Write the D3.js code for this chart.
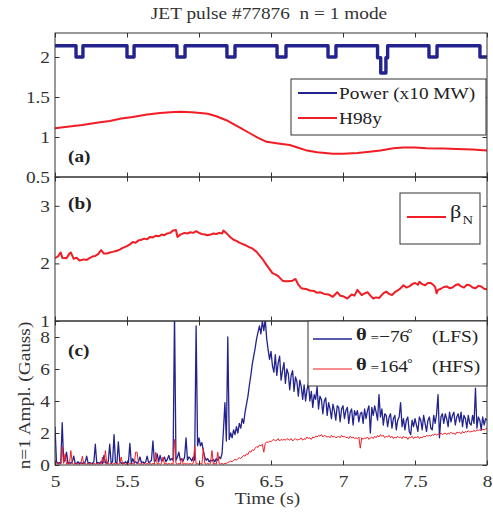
<!DOCTYPE html>
<html>
<head>
<meta charset="utf-8">
<script src="https://cdn.jsdelivr.net/npm/d3@7"></script>
<style>
  html, body { margin: 0; padding: 0; background: #fff; }
  svg { display: block; font-family: "Liberation Serif", "Times New Roman", serif; }
  text { white-space: pre; }
</style>
</head>
<body>
<svg id="chart" width="493" height="514"></svg>
<script>
// ---- data ----
const timeTicks = [5, 5.5, 6, 6.5, 7, 7.5, 8];

// (a) heating power (x10 MW), step trace with NBI notches
const powerSteps = [
  [5.0, 2.14], [5.146, 2.0], [5.194, 2.14], [5.50, 2.0], [5.549, 2.14],
  [5.847, 2.0], [5.903, 2.14], [6.194, 2.0], [6.25, 2.14], [6.542, 2.0],
  [6.604, 2.14], [6.896, 2.0], [6.951, 2.14], [7.24, 1.99], [7.262, 1.80],
  [7.298, 1.99], [7.31, 2.14], [7.597, 2.0], [7.653, 2.14], [7.951, 2.0], [8.0, 2.0]
];

// (a) H98y
const h98y = [
  [5.00, 1.11], [5.10, 1.13], [5.19, 1.15], [5.30, 1.18], [5.38, 1.20], [5.46, 1.23],
  [5.54, 1.25], [5.64, 1.28], [5.73, 1.30], [5.80, 1.31], [5.87, 1.315], [5.95, 1.31],
  [6.01, 1.30], [6.06, 1.29], [6.12, 1.26], [6.19, 1.21], [6.24, 1.16], [6.29, 1.11],
  [6.35, 1.05], [6.41, 0.99], [6.47, 0.94], [6.55, 0.92], [6.63, 0.90], [6.70, 0.86],
  [6.75, 0.83], [6.82, 0.81], [6.93, 0.79], [7.00, 0.79], [7.10, 0.80], [7.20, 0.82],
  [7.26, 0.83], [7.35, 0.86], [7.42, 0.87], [7.50, 0.87], [7.58, 0.86], [7.70, 0.855],
  [7.79, 0.85], [7.90, 0.845], [8.00, 0.83]
];

// (b) beta_N
const betaN = [
  [5.00, 2.09], [5.02, 2.12], [5.04, 2.19], [5.05, 2.10], [5.08, 2.09], [5.10, 2.17],
  [5.11, 2.19], [5.13, 2.08], [5.15, 2.10], [5.17, 2.05], [5.20, 2.07], [5.22, 2.06],
  [5.24, 2.09], [5.26, 2.12], [5.28, 2.13], [5.30, 2.16], [5.32, 2.23], [5.34, 2.17],
  [5.36, 2.17], [5.38, 2.19], [5.40, 2.20], [5.43, 2.22], [5.45, 2.24], [5.47, 2.27],
  [5.50, 2.30], [5.52, 2.33], [5.54, 2.37], [5.56, 2.36], [5.58, 2.40], [5.60, 2.41],
  [5.62, 2.43], [5.64, 2.42], [5.66, 2.46], [5.68, 2.45], [5.70, 2.48], [5.72, 2.47],
  [5.74, 2.50], [5.76, 2.49], [5.78, 2.52], [5.80, 2.53], [5.82, 2.57], [5.84, 2.58],
  [5.85, 2.46], [5.87, 2.50], [5.90, 2.53], [5.92, 2.52], [5.94, 2.54], [5.96, 2.53],
  [5.98, 2.56], [6.00, 2.53], [6.02, 2.51], [6.04, 2.50], [6.06, 2.49], [6.08, 2.50],
  [6.10, 2.52], [6.12, 2.51], [6.14, 2.53], [6.16, 2.52], [6.17, 2.57], [6.20, 2.50],
  [6.22, 2.45], [6.24, 2.41], [6.26, 2.39], [6.28, 2.36], [6.30, 2.34], [6.32, 2.32],
  [6.35, 2.28], [6.37, 2.26], [6.40, 2.20], [6.42, 2.14], [6.44, 2.08], [6.47, 1.97],
  [6.49, 1.90], [6.51, 1.83], [6.53, 1.81], [6.55, 1.78], [6.58, 1.70], [6.60, 1.69],
  [6.62, 1.69], [6.65, 1.70], [6.67, 1.73], [6.69, 1.63], [6.71, 1.57], [6.73, 1.56],
  [6.75, 1.55], [6.77, 1.53], [6.80, 1.52], [6.82, 1.49], [6.84, 1.50], [6.87, 1.47],
  [6.90, 1.46], [6.93, 1.42], [6.96, 1.50], [6.98, 1.44], [7.00, 1.43], [7.03, 1.39],
  [7.06, 1.46], [7.08, 1.44], [7.10, 1.54], [7.13, 1.45], [7.15, 1.48], [7.17, 1.50],
  [7.19, 1.44], [7.21, 1.39], [7.23, 1.41], [7.25, 1.40], [7.28, 1.48], [7.30, 1.51],
  [7.32, 1.47], [7.34, 1.45], [7.36, 1.50], [7.38, 1.53], [7.40, 1.57], [7.42, 1.62],
  [7.44, 1.58], [7.46, 1.60], [7.48, 1.64], [7.50, 1.66], [7.52, 1.63], [7.53, 1.68],
  [7.55, 1.64], [7.57, 1.62], [7.59, 1.66], [7.61, 1.66], [7.63, 1.62], [7.64, 1.59],
  [7.65, 1.48], [7.66, 1.54], [7.68, 1.56], [7.70, 1.59], [7.72, 1.60], [7.74, 1.57],
  [7.76, 1.58], [7.78, 1.62], [7.80, 1.64], [7.82, 1.60], [7.84, 1.58], [7.86, 1.63],
  [7.88, 1.62], [7.90, 1.58], [7.92, 1.57], [7.94, 1.61], [7.96, 1.60], [7.98, 1.56],
  [8.00, 1.55]
];

// (c) n=1 amplitude (Gauss), sampled every 10 ms from 5.00 s
const ampT0 = 5.0, ampDt = 0.01;
const ampLFS = [
  2.4, 0.2, 0.1, 0.15, 0.1, 2.65, 0.2, 0.3, 0.8, 0.1,      // 5.0
  0.15, 0.1, 0.2, 0.55, 0.1, 0.1, 0.2, 0.1, 0.15, 0.1,     // 5.1
  0.1, 0.2, 0.55, 0.1, 0.15, 0.1, 0.1, 0.2, 1.3, 0.1,      // 5.2
  0.15, 0.1, 0.2, 0.1, 0.6, 0.15, 0.1, 0.2, 1.3, 0.1,      // 5.3
  0.2, 1.9, 0.15, 0.1, 1.45, 0.2, 0.1, 0.15, 0.1, 0.2,     // 5.4
  0.1, 0.15, 1.35, 0.1, 0.4, 0.15, 0.2, 0.1, 0.2, 0.5,     // 5.5
  0.15, 0.2, 0.1, 0.2, 0.55, 0.15, 0.2, 0.3, 1.5, 0.2,     // 5.6
  0.3, 0.7, 0.2, 0.6, 0.25, 0.3, 0.5, 0.2, 0.35, 0.6,      // 5.7
  0.3, 0.4, 0.3, 9.5, 0.3, 0.5, 0.8, 0.3, 0.4, 0.25,       // 5.8
  0.5, 1.7, 0.3, 0.5, 0.4, 0.25, 0.5, 0.3, 8.7, 1.2,       // 5.9
  1.7, 1.2, 1.4, 0.9, 0.5, 0.3, 0.4, 0.2, 0.3, 0.25,       // 6.0
  0.35, 0.2, 0.4, 0.3, 0.5, 0.4, 0.7, 2.2, 3.9, 1.5,       // 6.1
  8.0, 1.6, 2.0, 1.7, 2.2, 1.9, 2.4, 2.0, 2.6, 2.3,        // 6.2
  2.9, 2.6, 3.3, 3.8, 4.3, 5.0, 5.6, 6.3, 6.8, 7.3,        // 6.3
  7.9, 8.3, 8.7, 8.2, 9.0, 8.4, 9.1, 7.9, 7.2, 6.6,        // 6.4
  7.1, 6.2, 5.8, 6.9, 5.6, 6.4, 6.8, 5.3, 5.9, 6.4,        // 6.5
  5.1, 6.0, 5.7, 4.7, 5.6, 5.9, 4.6, 5.5, 5.2, 4.3,        // 6.6
  5.3, 4.9, 4.1, 5.0, 4.0, 4.7, 5.1, 4.0, 4.6, 3.6,        // 6.7
  4.4, 4.1, 4.9, 3.5, 4.3, 4.1, 3.2, 4.0, 4.2, 3.1,        // 6.8
  3.9, 3.5, 2.9, 3.8, 3.4, 2.8, 3.7, 3.6, 2.7, 3.5,        // 6.9
  3.7, 2.9, 3.4, 3.6, 2.6, 3.3, 3.5, 2.5, 3.4, 3.1,        // 7.0
  3.4, 2.7, 3.2, 3.3, 2.6, 3.5, 2.9, 3.4, 3.7, 2.0,        // 7.1
  3.6, 3.1, 3.7, 3.3, 2.8, 4.4, 3.0, 3.5, 2.5, 3.2,        // 7.2
  3.1, 2.4, 3.0, 3.2, 2.3, 2.9, 3.1, 2.2, 2.8, 3.0,        // 7.3
  3.9, 2.4, 2.9, 2.2, 2.8, 3.0, 2.1, 1.9, 2.8, 2.4,        // 7.4
  2.9, 2.5, 2.1, 3.0, 2.8, 2.2, 3.1, 2.6, 2.1, 2.8,        // 7.5
  3.0, 2.3, 2.2, 3.1, 2.6, 3.2, 4.4, 1.7, 3.0, 3.2,        // 7.6
  2.6, 3.2, 2.9, 2.4, 3.3, 2.7, 3.1, 3.3, 2.5, 3.0,        // 7.7
  3.2, 2.7, 3.3, 2.4, 3.1, 2.9, 2.3, 3.1, 2.6, 2.5,        // 7.8
  3.1, 2.6, 4.8, 2.3, 3.0, 2.8, 2.2, 3.0, 2.5, 2.9,        // 7.9
  2.8                                                      // 8.0
];
const ampHFS = [
  0.05, 0.1, 0.05, 0.1, 0.05, 1.15, 0.1, 0.7, 0.05, 0.1,   // 5.0
  0.05, 0.9, 0.1, 0.05, 0.1, 0.05, 0.1, 0.05, 0.1, 0.55,   // 5.1
  0.05, 0.1, 0.05, 0.1, 0.05, 0.1, 0.05, 0.1, 0.05, 0.1,   // 5.2
  0.05, 0.1, 0.05, 0.5, 0.1, 0.9, 0.05, 0.1, 0.05, 0.1,    // 5.3
  0.05, 0.1, 0.05, 0.1, 0.05, 0.1, 0.5, 0.05, 0.1, 0.05,   // 5.4
  0.1, 0.05, 0.1, 0.05, 0.1, 0.05, 0.8, 0.8, 0.1, 0.05,    // 5.5
  0.1, 0.05, 0.1, 0.05, 0.1, 0.05, 0.1, 0.05, 0.1, 0.05,   // 5.6
  0.8, 0.05, 0.1, 0.05, 0.1, 0.5, 0.05, 0.1, 0.05, 0.1,    // 5.7
  0.05, 0.1, 0.05, 1.6, 0.1, 0.05, 0.1, 0.05, 0.4, 0.05,   // 5.8
  0.1, 0.05, 0.1, 0.05, 0.1, 0.05, 0.1, 1.2, 0.05, 0.1,    // 5.9
  0.05, 0.1, 0.05, 1.05, 0.1, 0.05, 0.1, 0.05, 0.1, 0.9,   // 6.0
  0.05, 0.1, 0.05, 0.8, 0.1, 0.05, 0.1, 0.05, 0.1, 0.1,    // 6.1
  0.15, 0.2, 0.25, 0.2, 0.3, 0.35, 0.3, 0.4, 0.45, 0.4,    // 6.2
  0.5, 0.6, 0.55, 0.7, 0.65, 0.85, 0.8, 0.95, 0.9, 1.05,   // 6.3
  1.15, 1.1, 1.25, 1.2, 1.3, 0.8, 1.35, 1.45, 1.4, 1.5,    // 6.4
  1.45, 1.55, 1.6, 1.5, 1.55, 1.65, 1.5, 1.6, 1.55, 1.6,   // 6.5
  1.55, 1.65, 1.6, 1.55, 1.65, 1.5, 1.6, 1.65, 1.55, 1.6,  // 6.6
  1.6, 1.7, 1.55, 1.65, 1.6, 1.75, 1.65, 1.7, 1.6, 1.75,   // 6.7
  1.7, 1.8, 1.75, 1.85, 1.8, 1.9, 1.75, 1.85, 1.8, 1.75,   // 6.8
  1.8, 1.7, 1.85, 1.75, 1.8, 1.7, 1.75, 1.8, 1.7, 1.85,    // 6.9
  1.75, 1.8, 1.7, 1.75, 1.65, 1.8, 1.7, 1.75, 1.65, 1.7,   // 7.0
  1.65, 1.75, 1.05, 1.7, 1.6, 1.7, 1.65, 1.75, 1.6, 1.7,   // 7.1
  1.75, 1.65, 1.8, 1.7, 1.85, 1.75, 1.9, 1.8, 1.85, 1.7,   // 7.2
  1.8, 1.75, 1.85, 1.7, 1.8, 1.65, 1.75, 1.7, 1.8, 1.7,    // 7.3
  1.75, 1.65, 1.8, 1.7, 1.75, 1.6, 1.75, 1.7, 1.8, 1.65,   // 7.4
  1.75, 1.7, 1.8, 1.65, 1.75, 1.7, 1.8, 1.75, 1.85, 1.8,   // 7.5
  1.85, 1.8, 1.9, 1.85, 1.95, 1.85, 1.95, 1.9, 2.0, 1.9,   // 7.6
  1.95, 2.0, 1.9, 2.0, 1.95, 2.05, 1.95, 2.0, 1.9, 2.05,   // 7.7
  2.0, 2.05, 1.95, 2.1, 2.0, 2.1, 2.05, 2.15, 2.05, 2.1,   // 7.8
  2.1, 2.15, 2.1, 2.2, 2.15, 2.2, 2.15, 2.25, 2.2, 2.25,   // 7.9
  2.3                                                      // 8.0
];

// ---- layout ----
const BLUE = "#23238f", RED = "#f21c24", AX = "#333";
const FS = 16.5, STRETCH = 1.17;
const left = 55, right = 487, panelH = 144;
const svg = d3.select("#chart");

const x = d3.scaleLinear().domain([5, 8]).range([left, right]);

const panels = [
  { id: "a", top: 33, domain: [0.5, 2.3], ticks: [0.5, 1, 1.5, 2] },
  { id: "b", top: 177, domain: [1, 3.5], ticks: [1, 2, 3] },
  { id: "c", top: 321, domain: [0, 9], ticks: [0, 2, 4, 6, 8] }
];
panels.forEach(p => {
  p.bottom = p.top + panelH;
  p.y = d3.scaleLinear().domain(p.domain).range([p.bottom, p.top]);
});

const defs = svg.append("defs");
panels.forEach(p => {
  defs.append("clipPath").attr("id", "clip-" + p.id)
    .append("rect").attr("x", left).attr("y", p.top)
    .attr("width", right - left).attr("height", panelH);
});

const ampPts = vals => vals.map((v, i) => [ampT0 + i * ampDt, v]);

function drawLine(p, data, color, width, curve) {
  const line = d3.line().x(d => x(d[0])).y(d => p.y(d[1]));
  if (curve) line.curve(curve);
  svg.append("path")
    .attr("clip-path", "url(#clip-" + p.id + ")")
    .attr("d", line(data))
    .attr("fill", "none")
    .attr("stroke", color)
    .attr("stroke-width", width)
    .attr("stroke-linejoin", "round");
}

const [pa, pb, pc] = panels;
drawLine(pa, powerSteps, BLUE, 3.4, d3.curveStepAfter);
drawLine(pa, h98y, RED, 2);
drawLine(pb, betaN, RED, 2);
drawLine(pc, ampPts(ampLFS), BLUE, 1.3);
drawLine(pc, ampPts(ampHFS), RED, 1);

// axes: inward ticks on all four sides, MATLAB style
panels.forEach(p => {
  const tick = -4.5;
  const clean = g => {
    g.select(".domain").remove();
    g.selectAll("line").attr("stroke", AX);
    g.selectAll("text").attr("fill", AX).attr("font-size", FS)
      .attr("font-family", "Liberation Serif, Times New Roman, serif");
  };
  svg.append("g").attr("transform", `translate(${left},0)`)
    .call(d3.axisLeft(p.y).tickValues(p.ticks).tickSize(tick).tickPadding(5).tickFormat(d => d))
    .call(clean);
  svg.append("g").attr("transform", `translate(${right},0)`)
    .call(d3.axisRight(p.y).tickValues(p.ticks).tickSize(tick).tickFormat(""))
    .call(clean);
  svg.append("g").attr("transform", `translate(0,${p.top})`)
    .call(d3.axisTop(x).tickValues(timeTicks).tickSize(tick).tickFormat(""))
    .call(clean);
  svg.append("g").attr("transform", `translate(0,${p.bottom})`)
    .call(d3.axisBottom(x).tickValues(timeTicks).tickSize(tick).tickPadding(10)
      .tickFormat(p.id === "c" ? d => d : ""))
    .call(clean);
  svg.append("rect")
    .attr("x", left).attr("y", p.top)
    .attr("width", right - left).attr("height", panelH)
    .attr("fill", "none").attr("stroke", AX).attr("stroke-width", 1);
});

// panel letters
[["(a)", 162], ["(b)", 208.5], ["(c)", 356]].forEach(([t, yy]) => {
  svg.append("text").attr("x", 68).attr("y", yy)
    .attr("font-size", FS).attr("font-weight", "bold").attr("fill", "#222").text(t);
});

// legends
function legendBox(x0, y0, x1, y1) {
  svg.append("rect").attr("x", x0).attr("y", y0)
    .attr("width", x1 - x0).attr("height", y1 - y0)
    .attr("fill", "#fff").attr("stroke", AX).attr("stroke-width", 1);
}
function legendLine(x0, x1, yy, color, w) {
  svg.append("line").attr("x1", x0).attr("x2", x1).attr("y1", yy).attr("y2", yy)
    .attr("stroke", color).attr("stroke-width", w);
}
function label(t, xx, yy, size, extra) {
  const el = svg.append("text").attr("x", xx).attr("y", yy)
    .attr("font-size", size).attr("fill", "#222").text(t);
  if (extra) extra(el);
  return el;
}

legendBox(291, 79, 486, 135);
legendLine(298, 337, 93, BLUE, 2.2);
legendLine(298, 337, 118, RED, 2);
label("Power (x10 MW)", 339, 98.5, FS);
label("H98y", 339, 123.5, FS);

legendBox(400, 193, 480, 244);
legendLine(407, 446, 217, RED, 2);
label("\u03b2", 450, 218, 19);
label("N", 462.5, 223.5, 12.5);

legendBox(308, 321, 487, 386);
legendLine(313, 352, 339, BLUE, 1.3);
legendLine(313, 352, 369, RED, 1);
[[339.5, 342, "\u221276", "(LFS)"], [369.5, 372, "164", "(HFS)"]].forEach(([ty, by, num, side]) => {
  label("\u03b8", 356, ty, 17.5, e => e.attr("font-weight", "bold"));
  label("=", 370.5, by, 13);
  label(num, 379, by, FS);
  label("\u00b0", 407, by - 5, 12);
  label(side, 432, by, FS);
});

// titles
label("JET pulse #77876  n = 1 mode", 269, 18.5, FS, e => e.attr("text-anchor", "middle").attr("fill", "#333"));
label("Time (s)", 267.5, 504, FS, e => e.attr("text-anchor", "middle").attr("fill", "#333"));
svg.append("text")
  .attr("transform", "translate(30,395.5) rotate(-90)")
  .attr("text-anchor", "middle").attr("font-size", FS).attr("fill", "#333")
  .text("n=1 Ampl. (Gauss)");

// the original's lettering is horizontally wider than plain Times
svg.selectAll("text").each(function () {
  const w = this.getComputedTextLength();
  if (w > 0) d3.select(this).attr("textLength", w * STRETCH).attr("lengthAdjust", "spacingAndGlyphs");
});
</script>
</body>
</html>
